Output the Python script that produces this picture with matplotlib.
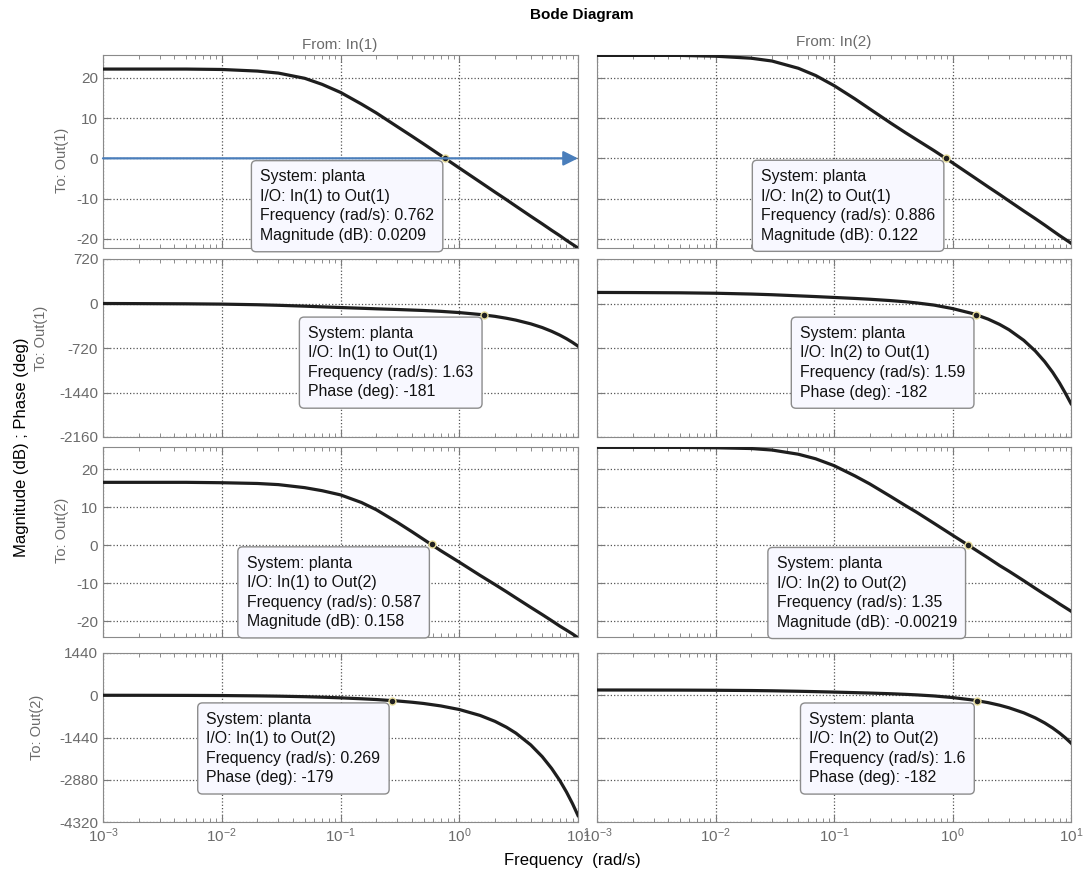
import numpy as np
import matplotlib
matplotlib.use('Agg')
import matplotlib.pyplot as plt

plt.rcParams['font.family'] = ['Liberation Sans', 'DejaVu Sans']
plt.rcParams['axes.unicode_minus'] = False

# frequency grid (rad/s) and responses
freq = [0.001, 0.002, 0.005, 0.01, 0.02, 0.03, 0.05, 0.07, 0.1, 0.15, 0.2,
        0.3, 0.4, 0.5, 0.7, 1, 1.5, 2, 2.5, 3, 4, 5, 6, 7, 8, 9, 10]

mag_in1_out1 = [22.2, 22.2, 22.2, 22.1, 21.7, 21.2, 19.9, 18.4, 16.4, 13.5, 11.3,
                7.9, 5.5, 3.6, 0.7, -2.4, -5.9, -8.4, -10.3, -11.9, -14.4,
                -16.3, -17.9, -19.2, -20.4, -21.4, -22.3]
mag_in2_out1 = [25.6, 25.6, 25.6, 25.4, 24.9, 24.2, 22.4, 20.6, 18.1, 14.8, 12.3,
                8.8, 6.4, 4.6, 1.9, -1.1, -4.6, -7.1, -9.0, -10.6, -13.1,
                -15.0, -16.6, -18.0, -19.2, -20.2, -21.1]
mag_in1_out2 = [16.5, 16.5, 16.5, 16.4, 16.2, 15.9, 15.1, 14.3, 13.2, 11.2, 9.3,
                6.0, 3.5, 1.5, -1.5, -4.5, -8.0, -10.4, -12.3, -13.9, -16.4,
                -18.3, -19.9, -21.3, -22.4, -23.4, -24.4]
mag_in2_out2 = [25.7, 25.7, 25.7, 25.6, 25.4, 25.0, 23.9, 22.7, 20.9, 18.2, 16.1,
                12.8, 10.4, 8.6, 5.7, 2.6, -0.9, -3.4, -5.4, -6.9, -9.4,
                -11.4, -13.0, -14.3, -15.5, -16.5, -17.4]

phase_in1_out1 = [0, -2, -5, -10, -20, -29, -43, -54, -65, -77, -86,
                  -97, -106, -113, -127, -147, -178, -208, -239, -269, -329,
                  -389, -450, -510, -570, -630, -690]
phase_in2_out1 = [179, 177, 173, 166, 153, 142, 124, 112, 98, 82, 69,
                  47, 28, 9, -26, -82, -166, -253, -339, -425, -597,
                  -769, -941, -1113, -1285, -1457, -1620]
phase_in1_out2 = [-1, -2, -5, -10, -21, -31, -49, -66, -88, -120, -146,
                  -194, -238, -280, -364, -486, -689, -890, -1091, -1291, -1693,
                  -2094, -2496, -2896, -3298, -3699, -4100]
phase_in2_out2 = [179, 178, 175, 170, 161, 152, 136, 123, 108, 89, 75,
                  52, 31, 12, -24, -78, -165, -252, -340, -428, -600,
                  -772, -944, -1116, -1288, -1458, -1629]

# data tips: frequency and value
tip_freq = [0.762, 0.886, 1.63, 1.59, 0.587, 1.35, 0.269, 1.6]
tip_value = [0.0209, 0.122, -181, -182, 0.158, -0.00219, -179, -182]

row_ylim = [(-22.3, 25.7), (-2160, 720), (-24.2, 25.8), (-4320, 1440)]
row_yticks = [[-20, -10, 0, 10, 20], [-2160, -1440, -720, 0, 720],
              [-20, -10, 0, 10, 20], [-4320, -2880, -1440, 0, 1440]]

curves = [[mag_in1_out1, mag_in2_out1], [phase_in1_out1, phase_in2_out1],
          [mag_in1_out2, mag_in2_out2], [phase_in1_out2, phase_in2_out2]]

W, H = 1086, 875
col_px = [(103, 578), (597, 1071)]
row_px = [(55, 248), (259, 437), (447, 637), (653, 822)]

gray = '#6b6b6b'
fig = plt.figure(figsize=(W / 100, H / 100), dpi=100)

axes = {}
for r in range(4):
    for c in range(2):
        x0, x1 = col_px[c]
        t, b = row_px[r]
        ax = fig.add_axes([x0 / W, 1 - b / H, (x1 - x0) / W, (b - t) / H])
        ax.semilogx(freq, curves[r][c], color='#1e1e1e', lw=2.3, zorder=3)
        ax.set_xlim(1e-3, 1e1)
        ax.set_ylim(*row_ylim[r])
        ax.set_yticks(row_yticks[r])
        ax.grid(True, which='major', ls=':', color='#555555', lw=0.9)
        ax.tick_params(which='both', direction='in', top=True, right=True,
                       colors='#7a7a7a', labelcolor=gray, labelsize=11)
        ax.tick_params(which='major', length=5)
        ax.tick_params(which='minor', length=3)
        for s in ax.spines.values():
            s.set_color('#8a8a8a')
        if c == 1:
            ax.set_yticklabels([])
        if r < 3:
            ax.set_xticklabels([])
        axes[(r, c)] = ax

# data tips
k = 0
for r in range(4):
    for c in range(2):
        ax = axes[(r, c)]
        qty = 'Magnitude (dB)' if r % 2 == 0 else 'Phase (deg)'
        label = ('System: planta\nI/O: In(%d) to Out(%d)\nFrequency (rad/s): %.3g\n%s: %.3g'
                 % (c + 1, r // 2 + 1, tip_freq[k], qty, tip_value[k]))
        ax.plot(tip_freq[k], tip_value[k], 'o', ms=5, mfc='#202020',
                mec='#e6dc9a', mew=1, zorder=6)
        ax.annotate(label, xy=(tip_freq[k], tip_value[k]), xytext=(-8, -8),
                    textcoords='offset points', ha='right', va='top',
                    ma='left', fontsize=11.4, linespacing=1.38, color='#111111',
                    annotation_clip=False, zorder=10,
                    bbox=dict(boxstyle='round,pad=0.55,rounding_size=0.3',
                              fc='#f8f8ff', ec='#8c8c8c', lw=1))
        k += 1

# blue arrow on the first panel
ax = axes[(0, 0)]
ax.annotate('', xy=(1.0, 0), xycoords=('axes fraction', 'data'),
            xytext=(0.0, 0), textcoords=('axes fraction', 'data'),
            arrowprops=dict(arrowstyle='-|>', color='#4a7ebb', lw=1.6,
                            mutation_scale=22, shrinkA=0, shrinkB=0),
            zorder=12, annotation_clip=False)

# titles and labels
fig.text(582 / W, 1 - 15 / H, 'Bode Diagram', ha='center', va='center',
         fontsize=11, fontweight='bold')
fig.text(340 / W, 1 - 45 / H, 'From: In(1)', ha='center', va='center',
         fontsize=11, color=gray)
fig.text(834 / W, 1 - 42 / H, 'From: In(2)', ha='center', va='center',
         fontsize=11, color=gray)
for y_px, txt, x_px in [(160, 'To: Out(1)', 62), (338, 'To: Out(1)', 41),
                        (530, 'To: Out(2)', 62), (727, 'To: Out(2)', 37)]:
    fig.text(x_px / W, 1 - y_px / H, txt, rotation=90, ha='center',
             va='center', fontsize=10.5, color=gray)
fig.text(22 / W, 1 - 447 / H, 'Magnitude (dB) ; Phase (deg)', rotation=90,
         ha='center', va='center', fontsize=12)
fig.text(572 / W, 1 - 860 / H, 'Frequency  (rad/s)', ha='center', va='center',
         fontsize=12)

fig.savefig('out.png', dpi=100)
